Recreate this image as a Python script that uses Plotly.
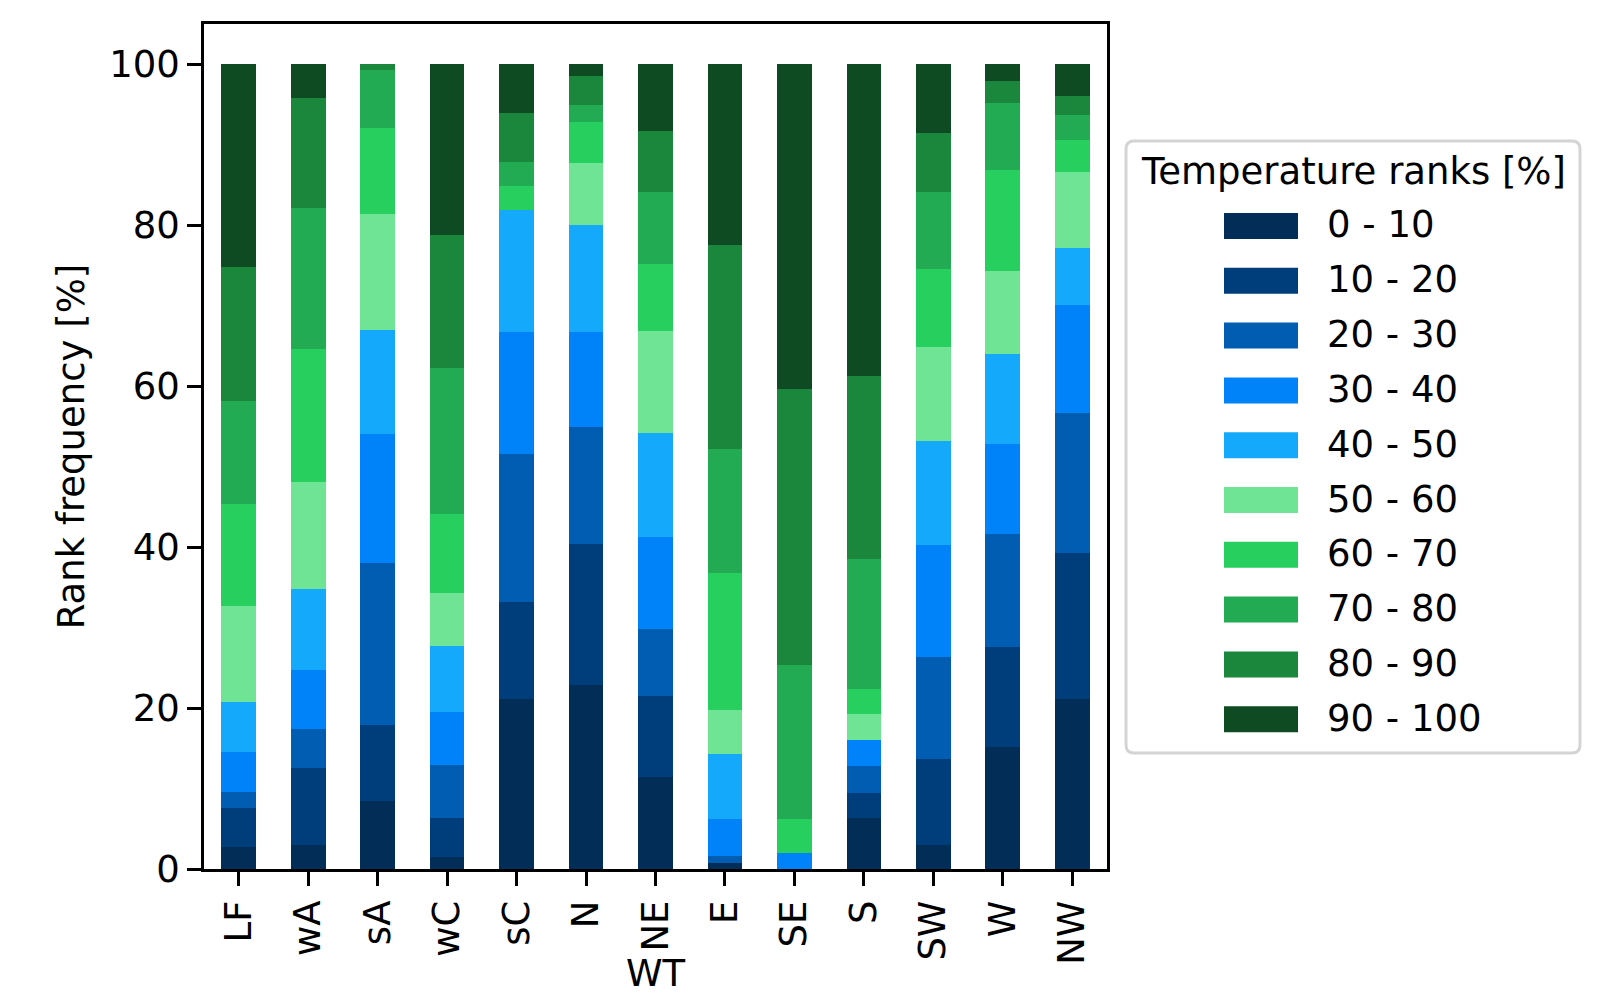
import plotly.graph_objects as go

# ---------------- data ----------------
weather_types = ["LF", "wA", "sA", "wC", "sC", "N", "NE", "E", "SE", "S", "SW", "W", "NW"]
rank_labels = ["0 - 10", "10 - 20", "20 - 30", "30 - 40", "40 - 50",
               "50 - 60", "60 - 70", "70 - 80", "80 - 90", "90 - 100"]

r00_10  = [2.7, 3.0, 8.5, 1.5, 21.1, 22.9, 11.4, 0.7, 0.0, 6.3, 3.0, 15.2, 21.1]
r10_20  = [4.9, 9.6, 9.35, 4.9, 12.1, 17.5, 10.1, 0.0, 0.0, 3.2, 10.7, 12.4, 18.2]
r20_30  = [2.0, 4.8, 20.15, 6.5, 18.4, 14.5, 8.3, 0.95, 0.0, 3.3, 12.7, 14.0, 17.4]
r30_40  = [4.9, 7.35, 16.0, 6.6, 15.1, 11.8, 11.4, 4.55, 2.0, 3.2, 13.9, 11.2, 13.4]
r40_50  = [6.3, 10.05, 13.0, 8.2, 15.2, 13.3, 13.0, 8.1, 0.0, 0.0, 12.9, 11.2, 7.1]
r50_60  = [11.9, 13.3, 14.4, 6.6, 0.0, 7.7, 12.7, 5.4, 0.0, 3.2, 11.7, 10.3, 9.4]
r60_70  = [12.7, 16.5, 10.7, 9.8, 3.0, 5.15, 8.3, 17.1, 4.2, 3.2, 9.6, 12.6, 4.0]
r70_80  = [12.7, 17.5, 7.2, 18.2, 3.0, 2.05, 8.9, 15.4, 19.2, 16.15, 9.6, 8.3, 3.1]
r80_90  = [16.7, 13.7, 0.7, 16.5, 6.1, 3.6, 7.6, 25.3, 34.2, 22.75, 7.4, 2.7, 2.4]
r90_100 = [25.2, 4.2, 0.0, 21.2, 6.0, 1.5, 8.3, 22.5, 40.4, 38.7, 8.5, 2.1, 3.9]

y_ticks = [0, 20, 40, 60, 80, 100]

# ---------------- styling ----------------
series = [r00_10, r10_20, r20_30, r30_40, r40_50, r50_60, r60_70, r70_80, r80_90, r90_100]
colors = ["#012d57", "#003e7b", "#005db2", "#0083f8", "#15a9fb",
          "#6fe494", "#27cf5e", "#22ab52", "#1b873c", "#0e4b22"]

FONT = "DejaVu Sans"
FS = 37
OFF = 8  # default page body margin
W, H = 1621 - 2 * OFF, 1006 - 2 * OFF
# plot area in page pixels
PL, PR, PT, PB = 204, 1107, 24, 869
ML, MR, MT, MB = PL - OFF, W - (PR - OFF), PT - OFF, H - (PB - OFF)
PW, PH = PR - PL, PB - PT


def px_x(x):
    return (x - PL) / PW


def px_y(y):
    return (PB - y) / PH


fig = go.Figure()
for name, vals, col in zip(rank_labels, series, colors):
    fig.add_trace(go.Bar(
        x=weather_types, y=vals, name=name, width=0.5,
        marker=dict(color=col, line=dict(width=0)),
        showlegend=False,
    ))

# ---------------- custom legend ----------------
shapes = []
annotations = []
bx0, bx1, by0, by1 = 1126, 1580, 141, 753
rr = 8
path = (f"M {px_x(bx0 + rr)},{px_y(by0)} L {px_x(bx1 - rr)},{px_y(by0)} "
        f"Q {px_x(bx1)},{px_y(by0)} {px_x(bx1)},{px_y(by0 + rr)} "
        f"L {px_x(bx1)},{px_y(by1 - rr)} "
        f"Q {px_x(bx1)},{px_y(by1)} {px_x(bx1 - rr)},{px_y(by1)} "
        f"L {px_x(bx0 + rr)},{px_y(by1)} "
        f"Q {px_x(bx0)},{px_y(by1)} {px_x(bx0)},{px_y(by1 - rr)} "
        f"L {px_x(bx0)},{px_y(by0 + rr)} "
        f"Q {px_x(bx0)},{px_y(by0)} {px_x(bx0 + rr)},{px_y(by0)} Z")
shapes.append(dict(type="path", xref="paper", yref="paper", path=path,
                   line=dict(color="#d4d4d4", width=3), fillcolor="white", layer="below"))

annotations.append(dict(
    xref="paper", yref="paper", x=px_x(1353), y=px_y(171), text="Temperature ranks [%]",
    showarrow=False, xanchor="center", yanchor="middle",
    font=dict(family=FONT, size=FS, color="black")))

first_c, step = 226, 54.8
for i, (name, col) in enumerate(zip(rank_labels, colors)):
    cy = first_c + i * step
    shapes.append(dict(type="rect", xref="paper", yref="paper",
                       x0=px_x(1224), x1=px_x(1298), y0=px_y(cy - 13), y1=px_y(cy + 13),
                       fillcolor=col, line=dict(width=0)))
    annotations.append(dict(
        xref="paper", yref="paper", x=px_x(1325), y=px_y(cy - 1), text=name,
        showarrow=False, xanchor="left", yanchor="middle",
        font=dict(family=FONT, size=FS, color="black")))

# x-axis title placed below the rotated tick labels
annotations.append(dict(
    xref="paper", yref="paper", x=0.5, y=px_y(997), text="WT",
    showarrow=False, xanchor="center", yanchor="bottom",
    font=dict(family=FONT, size=FS, color="black")))

axis_common = dict(
    showline=True, linecolor="black", linewidth=2.5, mirror=True,
    ticks="outside", ticklen=14, tickwidth=2.5, tickcolor="black",
    showgrid=False, zeroline=False, automargin=False,
    tickfont=dict(family=FONT, size=FS, color="black"),
)

fig.update_layout(
    barmode="stack",
    width=W, height=H,
    margin=dict(l=ML, r=MR, t=MT, b=MB, pad=0, autoexpand=False),
    plot_bgcolor="white", paper_bgcolor="white",
    font=dict(family=FONT, size=FS, color="black"),
    xaxis=dict(**axis_common, range=[-0.5, 12.5], tickangle=-90),
    yaxis=dict(**axis_common, range=[0, 105], tickvals=y_ticks,
               title=dict(text="Rank frequency [%]", font=dict(family=FONT, size=FS), standoff=14)),
    shapes=shapes,
    annotations=annotations,
    showlegend=False,
)

fig.write_html("out.html")
